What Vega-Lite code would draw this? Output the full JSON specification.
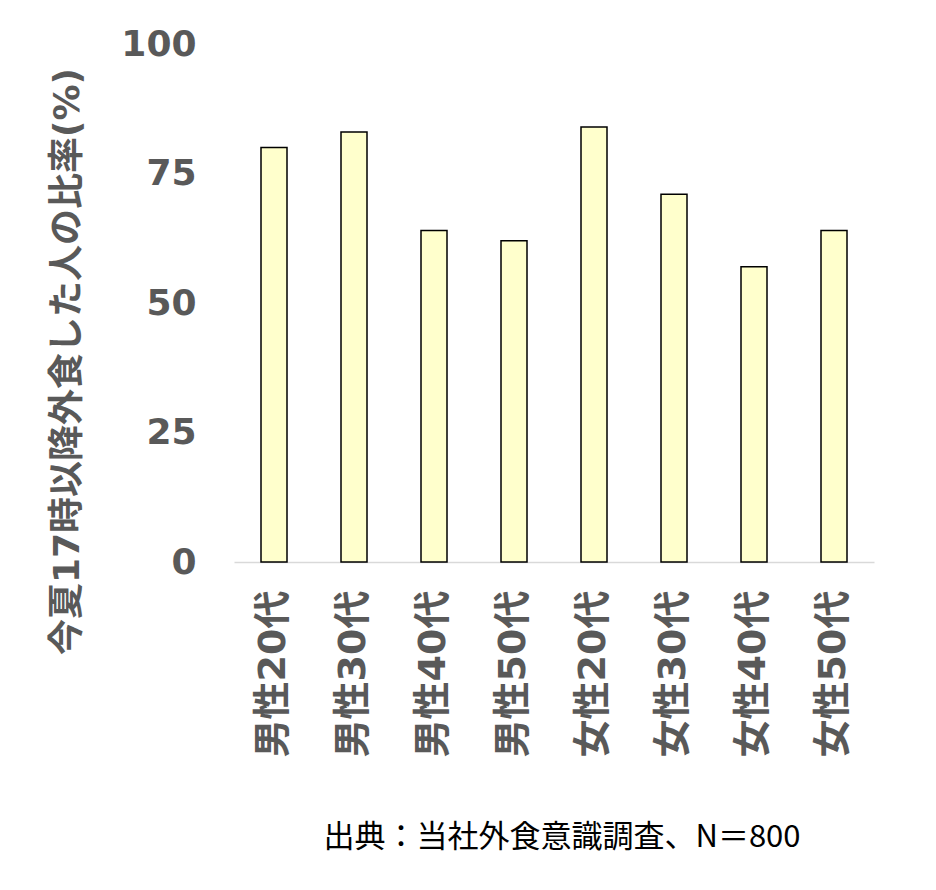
{
  "$schema": "https://vega.github.io/schema/vega-lite/v6.json",
  "autosize": "none",
  "width": 640,
  "height": 518,
  "padding": {"left": 234, "top": 44, "right": 62, "bottom": 328},
  "background": "white",
  "config": {"view": {"stroke": null}},
  "title": {
    "text": "出典：当社外食意識調査、N＝800",
    "orient": "bottom",
    "anchor": "middle",
    "font": "Noto Sans CJK JP",
    "fontSize": 31,
    "fontWeight": "normal",
    "color": "#000000",
    "offset": 66,
    "dx": 8
  },
  "data": {
    "values": [
      {"group": "男性20代", "rate": 80},
      {"group": "男性30代", "rate": 83},
      {"group": "男性40代", "rate": 64},
      {"group": "男性50代", "rate": 62},
      {"group": "女性20代", "rate": 84},
      {"group": "女性30代", "rate": 71},
      {"group": "女性40代", "rate": 57},
      {"group": "女性50代", "rate": 64}
    ]
  },
  "mark": {"type": "bar", "fill": "#FFFFCC", "stroke": "#000000", "strokeWidth": 1.5},
  "encoding": {
    "x": {
      "field": "group",
      "type": "nominal",
      "sort": null,
      "scale": {"paddingInner": 0.675, "paddingOuter": 0.3375},
      "axis": {
        "title": null,
        "labelAngle": -90,
        "labelAlign": "right",
        "labelBaseline": "middle",
        "labelFont": "DejaVu Sans, Noto Sans CJK JP",
        "labelFontSize": 38,
        "labelFontWeight": "bold",
        "labelColor": "#595959",
        "labelPadding": 28,
        "ticks": false,
        "domainColor": "#D9D9D9",
        "domainWidth": 1.5
      }
    },
    "y": {
      "field": "rate",
      "type": "quantitative",
      "scale": {"domain": [0, 100]},
      "axis": {
        "title": "今夏17時以降外食した人の比率(%)",
        "titleFont": "DejaVu Sans, Noto Sans CJK JP",
        "titleFontSize": 36,
        "titleFontWeight": "bold",
        "titleColor": "#595959",
        "titleX": -167,
        "titleY": 317,
        "titleAngle": -90,
        "titleAlign": "center",
        "titleBaseline": "middle",
        "values": [0, 25, 50, 75, 100],
        "labelFont": "DejaVu Sans",
        "labelFontSize": 36,
        "labelFontWeight": "bold",
        "labelColor": "#595959",
        "labelPadding": 38,
        "ticks": false,
        "domain": false,
        "grid": false
      }
    }
  }
}
